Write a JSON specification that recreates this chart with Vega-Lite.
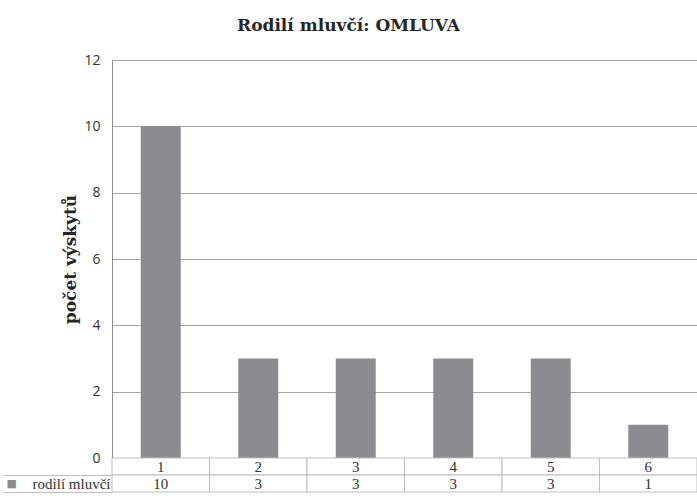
{
  "$schema": "https://vega.github.io/schema/vega-lite/v6.json",
  "autosize": "none",
  "width": 585,
  "height": 432,
  "padding": {"left": 112, "top": 60, "right": 0, "bottom": 9},
  "background": "white",
  "config": {
    "font": "Liberation Serif",
    "view": {"stroke": null}
  },
  "title": {
    "text": "Rodilí mluvčí: OMLUVA",
    "font": "DejaVu Serif",
    "fontSize": 17,
    "fontWeight": "bold",
    "color": "#262626",
    "anchor": "middle",
    "dx": -56,
    "offset": 18
  },
  "datasets": {
    "bars": [
      {"cat": "1", "n": 10},
      {"cat": "2", "n": 3},
      {"cat": "3", "n": 3},
      {"cat": "4", "n": 3},
      {"cat": "5", "n": 3},
      {"cat": "6", "n": 1}
    ],
    "table": [
      {"cat": "1", "row": "kategorie", "label": "1"},
      {"cat": "2", "row": "kategorie", "label": "2"},
      {"cat": "3", "row": "kategorie", "label": "3"},
      {"cat": "4", "row": "kategorie", "label": "4"},
      {"cat": "5", "row": "kategorie", "label": "5"},
      {"cat": "6", "row": "kategorie", "label": "6"},
      {"cat": "1", "row": "rodilí mluvčí", "label": "10"},
      {"cat": "2", "row": "rodilí mluvčí", "label": "3"},
      {"cat": "3", "row": "rodilí mluvčí", "label": "3"},
      {"cat": "4", "row": "rodilí mluvčí", "label": "3"},
      {"cat": "5", "row": "rodilí mluvčí", "label": "3"},
      {"cat": "6", "row": "rodilí mluvčí", "label": "1"}
    ]
  },
  "layer": [
    {
      "data": {"name": "bars"},
      "mark": {"type": "bar", "stroke": null, "color": "#8c8c90"},
      "encoding": {
        "x": {
          "field": "cat",
          "type": "nominal",
          "scale": {"paddingInner": 0.59, "paddingOuter": 0.295},
          "axis": null
        },
        "y": {
          "field": "n",
          "type": "quantitative",
          "scale": {"domain": [0, 12], "range": [398, 0], "nice": false},
          "axis": {
            "orient": "left",
            "values": [0, 2, 4, 6, 8, 10, 12],
            "grid": true,
            "gridColor": "#a6a6a6",
            "domainColor": "#8c8c8c",
            "ticks": false,
            "labelPadding": 12,
            "labelFont": "Open Sans",
            "labelFontSize": 14,
            "labelColor": "#333333",
            "title": "počet výskytů",
            "titleFont": "DejaVu Serif",
            "titleFontSize": 17,
            "titleFontWeight": "bold",
            "titleColor": "#262626",
            "titlePadding": 4
          }
        }
      }
    },
    {
      "data": {"name": "table"},
      "mark": {"type": "rect", "fill": "white", "stroke": "#bfbfbf", "strokeWidth": 1},
      "encoding": {
        "x": {"field": "cat", "type": "nominal", "scale": {"type": "band", "padding": 0}, "axis": null},
        "y": {
          "field": "row",
          "type": "nominal",
          "scale": {"type": "band", "domain": ["kategorie", "rodilí mluvčí"], "range": [398, 432], "padding": 0},
          "axis": {
            "orient": "left",
            "values": ["rodilí mluvčí"],
            "domain": false,
            "grid": false,
            "title": null,
            "bandPosition": 0,
            "tickSize": 109,
            "tickColor": "#bfbfbf",
            "labelPadding": -3,
            "labelAlign": "left",
            "labelBaseline": "middle",
            "labelFont": "DejaVu Sans",
            "labelFontSize": 11,
            "labelColor": "#8c8c90",
            "labelOffset": 0,
            "labelExpr": "'■'"
          }
        }
      }
    },
    {
      "data": {"name": "table"},
      "mark": {"type": "text", "font": "Liberation Serif", "fontSize": 15, "color": "#333333", "baseline": "middle"},
      "encoding": {
        "x": {"field": "cat", "type": "nominal", "scale": {"type": "band", "padding": 0}, "axis": null},
        "y": {
          "field": "row",
          "type": "nominal",
          "scale": {"type": "band", "domain": ["kategorie", "rodilí mluvčí"], "range": [398, 432], "padding": 0},
          "axis": {
            "orient": "left",
            "values": ["rodilí mluvčí"],
            "domain": false,
            "grid": false,
            "title": null,
            "bandPosition": 1,
            "tickSize": 109,
            "tickColor": "#bfbfbf",
            "labelPadding": -107,
            "labelAlign": "right",
            "labelBaseline": "middle",
            "labelFont": "Liberation Serif",
            "labelFontSize": 15,
            "labelColor": "#333333",
            "labelOffset": 0
          }
        },
        "text": {"field": "label"}
      }
    }
  ],
  "resolve": {"scale": {"x": "independent", "y": "independent"}}
}
